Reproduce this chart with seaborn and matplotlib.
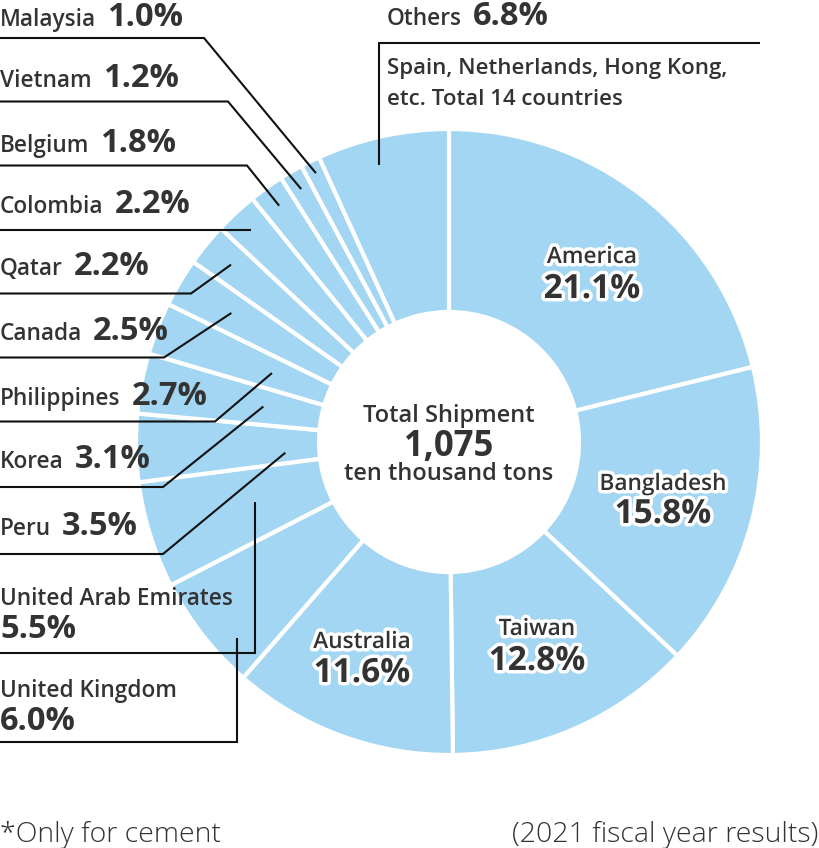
import matplotlib
matplotlib.use("Agg")
import matplotlib.pyplot as plt
import matplotlib.patheffects as pe
import numpy as np
import seaborn as sns

# ---------------- data ----------------
countries = ["America", "Bangladesh", "Taiwan", "Australia", "United Kingdom",
             "United Arab Emirates", "Peru", "Korea", "Philippines", "Canada",
             "Qatar", "Colombia", "Belgium", "Vietnam", "Malaysia", "Others"]
shares = [21.1, 15.8, 12.8, 11.6, 6.0, 5.5, 3.5, 3.1, 2.7, 2.5,
          2.2, 2.2, 1.8, 1.2, 1.0, 6.8]
pct_labels = [f"{v:.1f}%" for v in shares]
others_note = ["Spain, Netherlands, Hong Kong,", "etc. Total 14 countries"]
center_lines = ["Total Shipment", "1,075", "ten thousand tons"]
footnote_left = "*Only for cement"
footnote_right = "(2021 fiscal year results)"

# ---------------- style ----------------
sns.set_theme(style="white")
plt.rcParams['font.family'] = ['Open Sans', 'DejaVu Sans']
TXT = "#333333"
LINE = "#111111"
BLUE = "#a3d6f2"
NAME = dict(fontsize=16.3, fontweight="semibold", color=TXT)
PCT = dict(fontsize=23.5, fontweight="bold", color=TXT)

W, H = 820, 848
fig = plt.figure(figsize=(W / 100, H / 100), dpi=100)
ax = fig.add_axes([0, 0, 1, 1])


def Y(p):
    return H - p


CX, CY, R, RIN = 449, 442, 313, 130
wedges, _ = ax.pie(shares, center=(CX, Y(CY)), radius=R, startangle=90,
                   counterclock=False, colors=sns.color_palette([BLUE] * len(shares)),
                   wedgeprops=dict(width=R - RIN, edgecolor="white", linewidth=3))
ax.set_xlim(0, W)
ax.set_ylim(0, H)
ax.set_aspect("equal")
ax.axis("off")
renderer = fig.canvas.get_renderer()
idx = {c: i for i, c in enumerate(countries)}


def anchor(name, r, f=0.5):
    w = wedges[idx[name]]
    th = np.deg2rad(w.theta1 + f * (w.theta2 - w.theta1))
    return CX + r * np.cos(th), Y(CY) + r * np.sin(th)


# ---------------- inner labels ----------------
inner = {  # name: (x center, name baseline, pct baseline)
    "America": (592, 263, 298),
    "Bangladesh": (663, 490, 523),
    "Taiwan": (537, 635, 670),
    "Australia": (362, 648, 682),
}
stroke = [pe.withStroke(linewidth=5, foreground="white")]
for name, (x, yb1, yb2) in inner.items():
    ax.text(x, Y(yb1), name, ha="center", va="baseline", path_effects=stroke, **NAME)
    ax.text(x, Y(yb2), pct_labels[idx[name]], ha="center", va="baseline",
            path_effects=stroke, **{**PCT, "fontsize": 24})

# ---------------- single-line outside labels with diagonal leaders ----------------
row = {  # name: (text baseline, underline y, elbow x, anchor radius, frac)
    "Malaysia": (26, 38, 204, 300, 0.5),
    "Vietnam": (87, 101.5, 228, 293, 0.5),
    "Belgium": (152, 165.5, 247, 291, 0.5),
    "Colombia": (213, 229.5, 251, 291, 0.5),
    "Qatar": (275, 293.5, 191, 281, 0.5),
    "Canada": (340, 357.5, 164, 253, 0.5),
    "Philippines": (405, 421.5, 215, 190, 0.5),
    "Korea": (468, 487, 163, 189, 0.5),
    "Peru": (535, 554, 163, 164, 0.71),
}
for name, (tb, uy, ex, r, f) in row.items():
    t = ax.text(0, Y(tb), name, ha="left", va="baseline", **NAME)
    bb = t.get_window_extent(renderer)
    ax.text(bb.x1 + 11, Y(tb), pct_labels[idx[name]], ha="left", va="baseline", **PCT)
    axp, ayp = anchor(name, r, f)
    if name == "Colombia":
        xs, ys = [0, axp], [Y(uy), Y(uy)]
    else:
        xs, ys = [0, ex, axp], [Y(uy), Y(uy), ayp]
    ax.plot(xs, ys, color=LINE, lw=1.5, solid_capstyle="butt", solid_joinstyle="miter")

# ---------------- two-line outside labels with vertical leaders ----------------
stack = {  # name: (name baseline, pct baseline, underline y, anchor radius, frac)
    "United Arab Emirates": (605, 638, 653, 203, 0.5),
    "United Kingdom": (697, 730, 742, 289, 0.72),
}
for name, (b1, b2, uy, r, f) in stack.items():
    ax.text(0, Y(b1), name, ha="left", va="baseline", **NAME)
    ax.text(0, Y(b2), pct_labels[idx[name]], ha="left", va="baseline", **PCT)
    axp, ayp = anchor(name, r, f)
    ax.plot([0, axp, axp], [Y(uy), Y(uy), ayp], color=LINE, lw=1.5,
            solid_capstyle="butt", solid_joinstyle="miter")

# ---------------- Others ----------------
t = ax.text(387, Y(25), "Others", ha="left", va="baseline", **NAME)
bb = t.get_window_extent(renderer)
ax.text(bb.x1 + 11, Y(25), pct_labels[idx["Others"]], ha="left", va="baseline", **PCT)
for k, line in enumerate(others_note):
    ax.text(387, Y(74 + 31 * k), line, ha="left", va="baseline", **{**NAME, "fontsize": 16})
axp, ayp = anchor("Others", 286, 0.58)
ax.plot([760, axp, axp], [Y(43), Y(43), ayp], color=LINE, lw=1.5,
        solid_capstyle="butt", solid_joinstyle="miter")

# ---------------- center ----------------
ax.text(CX, Y(422), center_lines[0], ha="center", va="baseline", **{**NAME, "fontsize": 17})
ax.text(CX, Y(456), center_lines[1], ha="center", va="baseline", **{**PCT, "fontsize": 25})
ax.text(CX, Y(480), center_lines[2], ha="center", va="baseline", **{**NAME, "fontsize": 17})

# ---------------- footnotes ----------------
FOOT = dict(fontsize=20.5, fontweight="light", color=TXT)
ax.text(0, Y(842), footnote_left, ha="left", va="baseline", **FOOT)
ax.text(818, Y(842), footnote_right, ha="right", va="baseline", **FOOT)

fig.savefig("out.png", dpi=100, facecolor="white")
